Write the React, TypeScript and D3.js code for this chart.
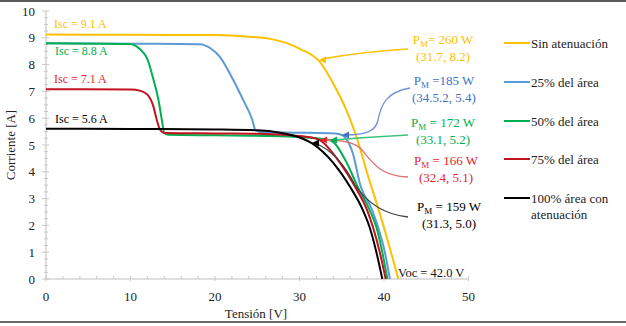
import React from "react";
import * as d3 from "d3";

const X_TICKS = [0, 10, 20, 30, 40, 50];
const Y_TICKS = [0, 1, 2, 3, 4, 5, 6, 7, 8, 9, 10];

const SIN: [number, number][] = [
  [0, 9.12], [10, 9.11], [20, 9.1], [24, 9.04], [26.5, 8.96], [28.5, 8.8], [30.1, 8.58],
  [32.4, 8.1], [34.4, 7.05], [35.2, 6.55], [36, 5.95], [36.9, 5.15], [38.1, 3.85],
  [39.5, 2.45], [40.6, 1.25], [41.7, 0],
];
const A25: [number, number][] = [
  [0, 8.8], [10, 8.78], [18.2, 8.76], [19.5, 8.6], [20.6, 8.28], [22.1, 7.46], [23.3, 6.7],
  [24.4, 5.95], [24.8, 5.55], [25.5, 5.48], [30, 5.46], [34.2, 5.43], [35.1, 5.36],
  [35.6, 5.2], [36.3, 4.7], [37.2, 3.5], [38.6, 2.57], [39.3, 1.93], [40.1, 1.0], [40.7, 0],
];
const A50: [number, number][] = [
  [0, 8.8], [9.9, 8.77], [11.1, 8.58], [12, 8.2], [12.7, 7.46], [13.3, 6.7], [13.7, 5.95],
  [14, 5.45], [14.5, 5.38], [20, 5.36], [26, 5.34], [30, 5.3], [33.6, 5.18], [35.6, 4.33],
  [36.9, 3.43], [38.3, 2.57], [39.1, 1.93], [39.8, 1.0], [40.4, 0],
];
const A75: [number, number][] = [
  [0, 7.08], [10, 7.07], [11.2, 7.02], [12, 6.88], [12.7, 6.45], [13.1, 5.95], [13.5, 5.57],
  [14, 5.45], [20, 5.43], [26, 5.41], [29, 5.36], [31, 5.3], [32.4, 5.18], [34.8, 4.33],
  [36.6, 3.43], [38, 2.57], [38.7, 1.93], [39.5, 1.0], [40.2, 0],
];
const A100: [number, number][] = [
  [0, 5.61], [10, 5.6], [20, 5.58], [25, 5.55], [27.7, 5.46], [30.1, 5.27], [31.5, 5.06],
  [34, 4.33], [36, 3.43], [37.5, 2.57], [38.3, 1.93], [39.1, 1.0], [39.8, 0],
];

const SERIES_NAMES = ["Sin atenuación", "25% del área", "50% del área", "75% del área", "100% área con"];
const SERIES_DATA = [SIN, A25, A50, A75, A100];
const COLORS = ["#FFC000", "#5B9BD5", "#00B050", "#C0121F", "#000000"];
const LABEL_COLORS = ["#FFC000", "#4472C4", "#00B050", "#E8242C", "#000000"];
const LEADER_COLORS = ["#FFC000", "#6F93D6", "#3CC47E", "#E07272", "#404040"];
const ARROW_COLORS = ["#FFC000", "#4472C4", "#00B050", "#E8242C", "#000000"];

const ISC_LABELS = ["Isc = 9.1 A", "Isc = 8.8 A", "Isc = 7.1 A", "Isc = 5.6 A"];
const ISC_COLORS = ["#FFC000", "#00B050", "#E8242C", "#000000"];
const PM_VALUES = ["= 260 W", " =185 W", " = 172 W", " = 166 W", " = 159 W"];
const MPP_LABELS = ["(31.7, 8.2)", "(34.5.2, 5.4)", "(33.1, 5.2)", "(32.4, 5.1)", "(31.3, 5.0)"];

const FONT = '"Liberation Serif", "DejaVu Serif", "Times New Roman", serif';

export default function App() {
  const x = d3.scaleLinear().domain([0, 50]).range([46, 468.5]);
  const y = d3.scaleLinear().domain([0, 10]).range([279, 11]);
  const line = d3
    .line<[number, number]>()
    .x((d) => x(d[0]))
    .y((d) => y(d[1]))
    .curve(d3.curveMonotoneX);

  const xMinor = d3.range(0, 50.001, 2);
  const yMinor = d3.range(0, 10.001, 0.25);

  const iscPos = [
    { x: 54, y: 28 },
    { x: 55, y: 55 },
    { x: 54, y: 83 },
    { x: 55, y: 123 },
  ];
  const pmPos = [
    { x: 443, y: 44 },
    { x: 444, y: 85 },
    { x: 443, y: 127 },
    { x: 446, y: 165 },
    { x: 449, y: 211 },
  ];
  const leaders = [
    "M408,49 Q360,52 322,59",
    "M410,88 C386,92 381,105 378,120 C376,131 366,135 345,135",
    "M408,135 Q370,137 333,140",
    "M408,177 C380,176 372,162 362,150 C355,142 342,140 323,140",
    "M408,217 C380,214 365,200 355,185 C345,165 332,150 315,143",
  ];
  const tips = [
    [319, 60],
    [342, 135],
    [330, 140],
    [320, 140],
    [312, 143],
  ];
  const legendY = [43, 82, 121, 159, 198];
  const ts = { fontFamily: FONT } as React.CSSProperties;

  return (
    <svg
      width={626}
      height={326}
      style={{ position: "absolute", left: 0, top: 0, background: "#fff", fontFamily: FONT }}
    >
      <rect x={0} y={0} width={626} height={326} fill="#fff" />
      <rect x={0} y={0} width={626} height={2} fill="#5a5a5a" />
      <rect x={0} y={321} width={626} height={2} fill="#6a6a6a" />

      {/* axes */}
      <line x1={x(0)} x2={x(0)} y1={y(10)} y2={y(0)} stroke="#bfbfbf" strokeWidth={1} />
      <line x1={x(0)} x2={x(50)} y1={y(0)} y2={y(0)} stroke="#bfbfbf" strokeWidth={1} />
      {yMinor.map((v, i) => {
        const major = Math.abs(v - Math.round(v)) < 1e-6;
        return (
          <line
            key={"ym" + i}
            x1={x(0) - (major ? 4 : 2)}
            x2={x(0) + (major ? 3 : 2)}
            y1={y(v)}
            y2={y(v)}
            stroke="#c8c8c8"
            strokeWidth={1}
          />
        );
      })}
      {xMinor.map((v, i) => (
        <line
          key={"xm" + i}
          x1={x(v)}
          x2={x(v)}
          y1={y(0) - 3}
          y2={y(0) + (v % 10 === 0 ? 2 : 0)}
          stroke="#c8c8c8"
          strokeWidth={1}
        />
      ))}
      {Y_TICKS.map((t) => (
        <text key={"yt" + t} style={ts} x={35} y={y(t) + 4.5} fontSize={13} textAnchor="end" fill="#222">
          {t}
        </text>
      ))}
      {X_TICKS.map((t) => (
        <text key={"xt" + t} style={ts} x={x(t)} y={301} fontSize={13} textAnchor="middle" fill="#222">
          {t}
        </text>
      ))}
      <text style={ts} x={256} y={318} fontSize={13} textAnchor="middle" fill="#222">
        Tensión [V]
      </text>
      <text
        style={ts}
        transform="translate(15,145) rotate(-90)"
        fontSize={13}
        textAnchor="middle"
        fill="#222"
      >
        Corriente [A]
      </text>

      {/* curves */}
      {SERIES_DATA.map((d, i) => (
        <path key={"c" + i} d={line(d) || ""} fill="none" stroke={COLORS[i]} strokeWidth={2} />
      ))}

      {/* leaders */}
      {leaders.map((p, i) => (
        <path key={"l" + i} d={p} fill="none" stroke={LEADER_COLORS[i]} strokeWidth={1.3} />
      ))}
      {tips.map((t, i) => (
        <path key={"a" + i} d={`M${t[0]},${t[1]} l7,-3.5 l0,7 Z`} fill={ARROW_COLORS[i]} />
      ))}

      {/* Isc labels */}
      {ISC_LABELS.map((s, i) => (
        <text key={"isc" + i} style={ts} x={iscPos[i].x} y={iscPos[i].y} fontSize={12} fill={ISC_COLORS[i]}>
          {s}
        </text>
      ))}

      {/* PM labels */}
      {PM_VALUES.map((s, i) => (
        <g key={"pm" + i} fill={LABEL_COLORS[i]}>
          <text style={ts} x={pmPos[i].x} y={pmPos[i].y} fontSize={13} textAnchor="middle">
            P<tspan fontSize={9} dy={3}>M</tspan>
            <tspan dy={-3}>{s}</tspan>
          </text>
          <text style={ts} x={pmPos[i].x} y={pmPos[i].y + 17} fontSize={13} textAnchor="middle">
            {MPP_LABELS[i]}
          </text>
        </g>
      ))}

      <text style={ts} x={398} y={277} fontSize={12.5} fill="#111">
        Voc = 42.0 V
      </text>

      {/* legend */}
      {SERIES_NAMES.map((n, i) => (
        <g key={"lg" + i}>
          <line x1={504} x2={530} y1={legendY[i]} y2={legendY[i]} stroke={COLORS[i]} strokeWidth={2} />
          <text style={ts} x={531} y={legendY[i] + 4.5} fontSize={13} fill="#222">
            {n}
          </text>
        </g>
      ))}
      <text style={ts} x={531} y={legendY[4] + 20.5} fontSize={13} fill="#222">
        atenuación
      </text>
    </svg>
  );
}
